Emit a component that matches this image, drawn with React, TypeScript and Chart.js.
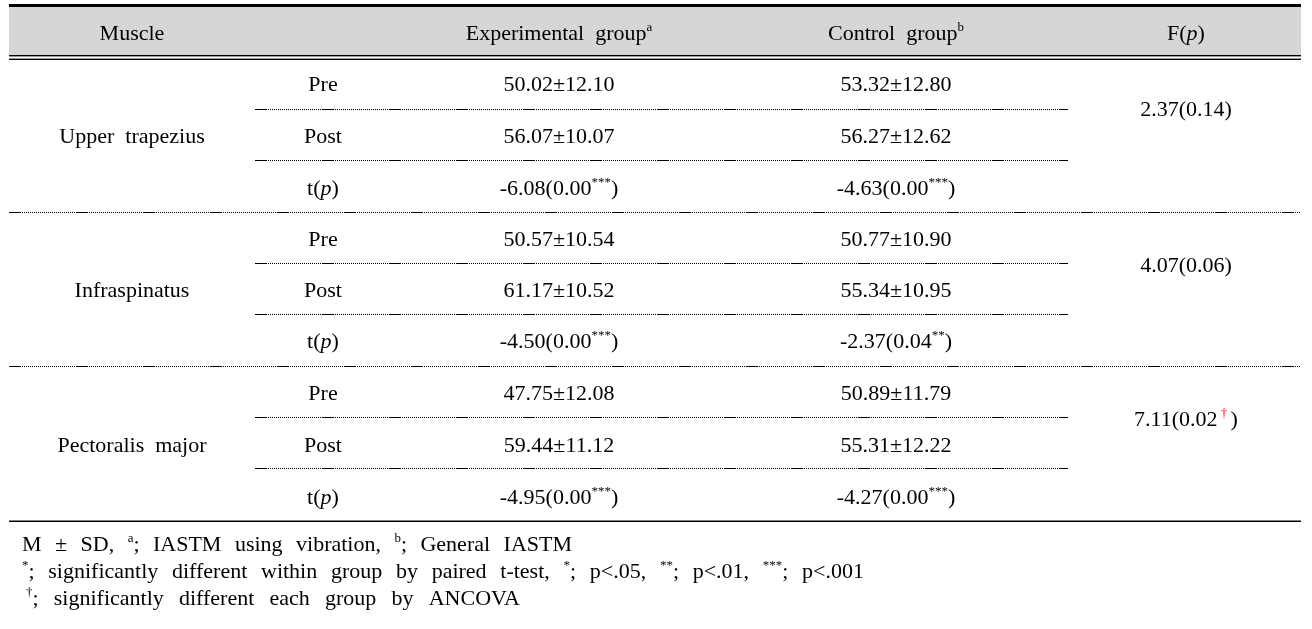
import React, { useEffect, useRef } from "react";
import { Chart, registerables } from "chart.js";
Chart.register(...registerables);

// ---------- data ----------
const headers = ["Muscle", "Experimental  group", "Control  group", "F("];
const headerSups = ["", "a", "b", ""];
const muscles = ["Upper  trapezius", "Infraspinatus", "Pectoralis  major"];
const phases = ["Pre", "Post", "t("];

const expPreMean = [50.02, 50.57, 47.75];
const expPreSD = [12.1, 10.54, 12.08];
const expPostMean = [56.07, 61.17, 59.44];
const expPostSD = [10.07, 10.52, 11.12];
const expT = [-6.08, -4.5, -4.95];
const expTp = [0.0, 0.0, 0.0];
const expStars = ["***", "***", "***"];

const ctlPreMean = [53.32, 50.77, 50.89];
const ctlPreSD = [12.8, 10.9, 11.79];
const ctlPostMean = [56.27, 55.34, 55.31];
const ctlPostSD = [12.62, 10.95, 12.22];
const ctlT = [-4.63, -2.37, -4.27];
const ctlTp = [0.0, 0.04, 0.0];
const ctlStars = ["***", "**", "***"];

const fVal = [2.37, 4.07, 7.11];
const fP = [0.14, 0.06, 0.02];
const fMark = ["", "", "†"];

const footnotes = [
  [
    { t: "M ± SD, " },
    { t: "a", k: "sup" },
    { t: "; IASTM using vibration, " },
    { t: "b", k: "sup" },
    { t: "; General IASTM" },
  ],
  [
    { t: "*", k: "sup" },
    { t: "; significantly different within group by paired t-test, " },
    { t: "*", k: "sup" },
    { t: "; p<.05, " },
    { t: "**", k: "sup" },
    { t: "; p<.01, " },
    { t: "***", k: "sup" },
    { t: "; p<.001" },
  ],
  [
    { t: "†", k: "sup" },
    { t: "; significantly different each group by ANCOVA" },
  ],
];

// ---------- layout ----------
const W = 1312;
const H = 629;
const COL_MUSCLE = 132;
const COL_PHASE = 323;
const COL_EXP = 559;
const COL_CTL = 896;
const COL_F = 1186;
const LEFT = 9;
const RIGHT = 1301;
const SUB_LEFT = 255;
const SUB_RIGHT = 1068;
const HEADER_BASE = 40;
const ROW_BASES = [
  [91, 143, 195],
  [246, 297, 348],
  [400, 452, 504],
];
const GROUP_BASES = [143, 297, 452];
const F_BASES = [116, 272, 426];
const SUB_LINES = [
  [109, 160],
  [263, 314],
  [417, 468],
];
const GROUP_LINES = [212, 366];
const FOOT_BASES = [551, 578, 605];
const FOOT_LEFT = [22, 22, 26];
const FOOT_RIGHT = [572, 864, 520];

type Seg = { t: string; k?: string };

const FAM = '"Liberation Serif", "Times New Roman", serif';

function isSup(k?: string) {
  return k === "sup" || k === "supRed";
}
function segFont(k?: string) {
  if (isSup(k)) return `13px ${FAM}`;
  if (k === "it") return `italic 22px ${FAM}`;
  return `22px ${FAM}`;
}

function setSeg(ctx: any, k?: string) {
  ctx.font = segFont(k);
}

function richWidth(ctx: any, segs: Seg[], extra: number) {
  let w = 0;
  for (const s of segs) {
    setSeg(ctx, s.k);
    w += ctx.measureText(s.t).width;
    if (extra && !s.k) w += (s.t.split(" ").length - 1) * extra;
  }
  return w;
}

function countSpaces(segs: Seg[]) {
  let n = 0;
  for (const s of segs) if (!s.k) n += s.t.split(" ").length - 1;
  return n;
}

function drawRich(ctx: any, segs: Seg[], x: number, y: number, align: string, extra = 0) {
  const w = richWidth(ctx, segs, extra);
  let cx = align === "center" ? x - w / 2 : x;
  ctx.textAlign = "left";
  ctx.textBaseline = "alphabetic";
  for (const s of segs) {
    setSeg(ctx, s.k);
    ctx.fillStyle = s.k === "supRed" ? "#ff0000" : "#000000";
    const dy = isSup(s.k) ? -9 : 0;
    if (extra && !s.k) {
      const parts = s.t.split(" ");
      const sp = ctx.measureText(" ").width + extra;
      parts.forEach((p, i) => {
        ctx.fillText(p, cx, y + dy);
        cx += ctx.measureText(p).width;
        if (i < parts.length - 1) cx += sp;
      });
    } else {
      ctx.fillText(s.t, cx, y + dy);
      cx += ctx.measureText(s.t).width;
    }
  }
}

function dashPattern() {
  const arr = [12, 1];
  for (let i = 0; i < 27; i++) arr.push(1, 1);
  return arr;
}

const fmt = (m: number, s: number) => `${m.toFixed(2)}±${s.toFixed(2)}`;

const tablePlugin = {
  id: "tableDraw",
  afterDraw(chart: any) {
    const ctx = chart.ctx;
    const X = (v: number) => chart.scales.x.getPixelForValue(v);
    const Y = (v: number) => chart.scales.y.getPixelForValue(v);
    ctx.save();

    // header background
    ctx.fillStyle = "#d6d6d6";
    ctx.fillRect(X(LEFT), Y(7), X(RIGHT) - X(LEFT), Y(55) - Y(7));

    // solid rules
    ctx.fillStyle = "#000";
    ctx.fillRect(X(LEFT), Y(4), X(RIGHT) - X(LEFT), 3);
    ctx.fillRect(X(LEFT), Y(55), X(RIGHT) - X(LEFT), 1.4);
    ctx.fillRect(X(LEFT), Y(58.6), X(RIGHT) - X(LEFT), 1.4);
    ctx.fillRect(X(LEFT), Y(520.5), X(RIGHT) - X(LEFT), 1.5);

    // dashed rules
    ctx.strokeStyle = "#000";
    ctx.lineWidth = 1;
    ctx.setLineDash(dashPattern());
    const hline = (y: number, x1: number, x2: number) => {
      ctx.beginPath();
      ctx.moveTo(X(x1), Y(y) + 0.5);
      ctx.lineTo(X(x2), Y(y) + 0.5);
      ctx.stroke();
    };
    SUB_LINES.forEach((pair) => pair.forEach((y) => hline(y, SUB_LEFT, SUB_RIGHT)));
    GROUP_LINES.forEach((y) => hline(y, LEFT, RIGHT));
    ctx.setLineDash([]);

    // header texts
    const hx = [COL_MUSCLE, COL_EXP, COL_CTL, COL_F];
    headers.forEach((h, i) => {
      let segs: Seg[];
      if (h === "F(") segs = [{ t: "F(" }, { t: "p", k: "it" }, { t: ")" }];
      else {
        segs = [{ t: h }];
        if (headerSups[i]) segs.push({ t: headerSups[i], k: "sup" });
      }
      drawRich(ctx, segs, X(hx[i]), Y(HEADER_BASE), "center");
    });

    // body
    muscles.forEach((m, g) => {
      drawRich(ctx, [{ t: m }], X(COL_MUSCLE), Y(GROUP_BASES[g]), "center");
      phases.forEach((p, r) => {
        const y = Y(ROW_BASES[g][r]);
        const ps: Seg[] = p === "t(" ? [{ t: "t(" }, { t: "p", k: "it" }, { t: ")" }] : [{ t: p }];
        drawRich(ctx, ps, X(COL_PHASE), y, "center");
        let e: Seg[], c: Seg[];
        if (r === 0) {
          e = [{ t: fmt(expPreMean[g], expPreSD[g]) }];
          c = [{ t: fmt(ctlPreMean[g], ctlPreSD[g]) }];
        } else if (r === 1) {
          e = [{ t: fmt(expPostMean[g], expPostSD[g]) }];
          c = [{ t: fmt(ctlPostMean[g], ctlPostSD[g]) }];
        } else {
          e = [
            { t: `${expT[g].toFixed(2)}(${expTp[g].toFixed(2)}` },
            { t: expStars[g], k: "sup" },
            { t: ")" },
          ];
          c = [
            { t: `${ctlT[g].toFixed(2)}(${ctlTp[g].toFixed(2)}` },
            { t: ctlStars[g], k: "sup" },
            { t: ")" },
          ];
        }
        drawRich(ctx, e, X(COL_EXP), y, "center");
        drawRich(ctx, c, X(COL_CTL), y, "center");
      });
      const fs: Seg[] = [{ t: `${fVal[g].toFixed(2)}(${fP[g].toFixed(2)}` }];
      if (fMark[g]) fs.push({ t: " " + fMark[g] + " ", k: "supRed" });
      fs.push({ t: ")" });
      drawRich(ctx, fs, X(COL_F), Y(F_BASES[g]), "center");
    });

    // footnotes
    footnotes.forEach((segs: Seg[], i) => {
      const natural = richWidth(ctx, segs, 0);
      const n = countSpaces(segs);
      const target = FOOT_RIGHT[i] - FOOT_LEFT[i];
      const extra = n ? Math.max(0, (target - natural) / n) : 0;
      drawRich(ctx, segs, X(FOOT_LEFT[i]), Y(FOOT_BASES[i]), "left", extra);
    });

    ctx.restore();
  },
};

export default function App() {
  const ref = useRef<HTMLCanvasElement | null>(null);
  useEffect(() => {
    if (!ref.current) return;
    const chart = new Chart(ref.current, {
      type: "scatter",
      data: { datasets: [{ data: [], pointRadius: 0 }] },
      options: {
        animation: false,
        responsive: false,
        devicePixelRatio: 1,
        layout: { padding: 0 },
        plugins: { legend: { display: false }, tooltip: { enabled: false } },
        scales: {
          x: { type: "linear", min: 0, max: W, display: false },
          y: { type: "linear", min: 0, max: H, reverse: true, display: false },
        },
      },
      plugins: [tablePlugin],
    } as any);
    return () => chart.destroy();
  }, []);
  return (
    <div style={{ position: "absolute", left: 0, top: 0, width: W, height: H, background: "#fff" }}>
      <canvas ref={ref} width={W} height={H} style={{ display: "block" }} />
    </div>
  );
}
